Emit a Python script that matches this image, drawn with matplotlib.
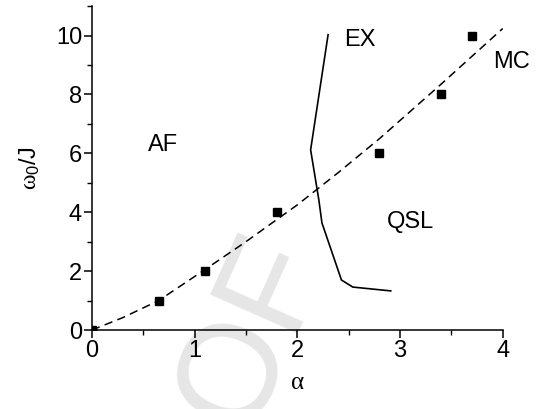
import matplotlib.pyplot as plt
from matplotlib.ticker import MultipleLocator

plt.rcParams['font.family'] = ['Liberation Sans', 'DejaVu Sans']
plt.rcParams['mathtext.fontset'] = 'custom'
plt.rcParams['mathtext.rm'] = 'Liberation Sans'
plt.rcParams['mathtext.it'] = 'Liberation Serif'

# data points (squares)
alpha_pts = [0.0, 0.65, 1.1, 1.8, 2.8, 3.4, 3.7]
omega_pts = [0.0, 1.0, 2.0, 4.0, 6.0, 8.0, 10.0]

# dashed boundary AF / QSL
alpha_fit = [0.0, 0.3, 0.65, 1.1, 1.5, 2.0, 2.4, 2.8, 3.4, 4.0]
omega_fit = [0.0, 0.42, 1.0, 2.05, 3.0, 4.25, 5.35, 6.5, 8.35, 10.24]

# solid boundary EX / QSL
alpha_ex = [2.30, 2.13, 2.21, 2.24, 2.43, 2.54, 2.91]
omega_ex = [10.03, 6.12, 4.42, 3.64, 1.70, 1.46, 1.33]

fig = plt.figure(figsize=(5.4, 4.09), dpi=100)
ax = fig.add_axes([0.170, 0.193, 0.761, 0.792])

# watermark
ax.text(0.457, -0.064, "OF", transform=fig.transFigure, rotation=66,
        rotation_mode='anchor', fontsize=100, color='#e6e6e6',
        ha='left', va='baseline', zorder=0, clip_on=False)

ax.plot(alpha_fit, omega_fit, color='black', lw=1.1, ls=(0, (5.5, 3.5)), zorder=2)
ax.plot(alpha_ex, omega_ex, color='black', lw=1.2, zorder=2)
ax.plot(alpha_pts, omega_pts, 's', color='black', ms=6, zorder=3)

ax.text(0.69, 6.3, "AF", fontsize=17, ha='center', va='center')
ax.text(2.61, 9.85, "EX", fontsize=17, ha='center', va='center')
ax.text(4.09, 9.1, "MC", fontsize=17, ha='center', va='center')
ax.text(3.1, 3.67, "QSL", fontsize=17, ha='center', va='center')

ax.set_xlim(0, 4)
ax.set_ylim(0, 11)
ax.xaxis.set_major_locator(MultipleLocator(1))
ax.xaxis.set_minor_locator(MultipleLocator(0.5))
ax.yaxis.set_major_locator(MultipleLocator(2))
ax.yaxis.set_minor_locator(MultipleLocator(1))
ax.tick_params(which='major', direction='out', length=6, width=1.1, labelsize=17, pad=1)
ax.tick_params(which='minor', direction='out', length=3.5, width=1.0)

ax.spines['top'].set_visible(False)
ax.spines['right'].set_visible(False)
ax.spines['left'].set_linewidth(1.1)
ax.spines['bottom'].set_linewidth(1.1)

ax.set_xlabel(r'$\alpha$', fontsize=18, labelpad=6)
ax.set_ylabel(r'$\omega_0$/J', fontsize=17, labelpad=10)

fig.savefig('out.png', dpi=100)
